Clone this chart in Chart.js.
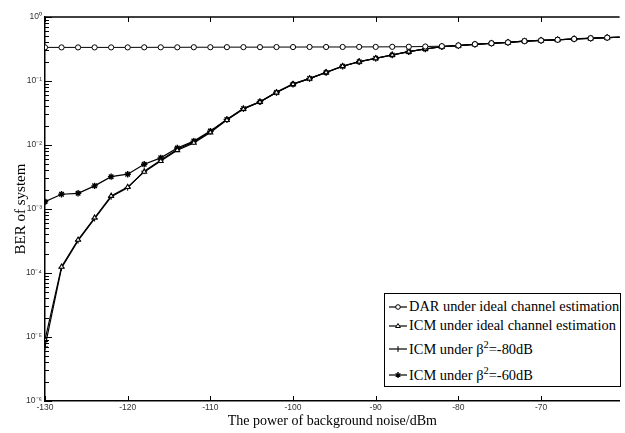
<!DOCTYPE html>
<html>
<head>
<meta charset="utf-8">
<script src="https://cdn.jsdelivr.net/npm/chart.js@4.4.1/dist/chart.umd.min.js"></script>
<style>
   body { margin: 0; background: #fff; overflow: hidden; }
   #wrap { position: relative; width: 625px; height: 433px; }
   #legend {
      position: absolute; left: 384px; top: 293px; width: 237px; height: 94px;
      border: 1px solid #000; background: #fff; box-sizing: border-box;
      font-family: "Liberation Serif", serif; font-size: 14.4px; color: #000;
      padding-top: 3px;
   }
   #legend .row { display: flex; align-items: center; padding-left: 4px; white-space: nowrap; }
   #legend svg { margin-right: 2px; flex: none; }
   #legend sup { font-size: 10.5px; line-height: 0; }
</style>
</head>
<body>
<div id="wrap">
   <canvas id="chart1" width="625" height="433"></canvas>
   <div id="legend"></div>
</div>
<script>
// noise power, dBm
const noise = [-130, -128, -126, -124, -122, -120, -118, -116, -114, -112, -110, -108,
   -106, -104, -102, -100, -98, -96, -94, -92, -90, -88, -86, -84, -82, -80,
   -78, -76, -74, -72, -70, -68, -66, -64, -62, -60];

const darIdeal = [0.335, 0.335, 0.335, 0.335, 0.335, 0.335, 0.336, 0.336, 0.336, 0.337, 0.337, 0.338,
   0.338, 0.338, 0.339, 0.339, 0.340, 0.340, 0.340, 0.341, 0.341, 0.342, 0.343, 0.346, 0.350, 0.360,
   0.376, 0.389, 0.401, 0.420, 0.431, 0.441, 0.454, 0.466, 0.476, 0.486];

const icmIdeal = [9.0e-6, 1.25e-4, 3.3e-4, 7.3e-4, 1.6e-3, 2.2e-3, 3.8e-3, 5.6e-3, 8.3e-3, 1.08e-2, 1.57e-2, 2.45e-2,
   3.65e-2, 4.7e-2, 0.066, 0.089, 0.109, 0.136, 0.170, 0.200, 0.226, 0.255, 0.287, 0.316, 0.343, 0.356,
   0.374, 0.388, 0.400, 0.420, 0.430, 0.440, 0.453, 0.465, 0.475, 0.485];

const icm80 = [7.0e-6, 1.2e-4, 3.2e-4, 7.1e-4, 1.55e-3, 2.15e-3, 3.9e-3, 5.8e-3, 8.6e-3, 1.12e-2, 1.62e-2, 2.5e-2,
   3.7e-2, 4.72e-2, 0.067, 0.090, 0.110, 0.137, 0.171, 0.201, 0.227, 0.256, 0.288, 0.317, 0.344, 0.357,
   0.375, 0.389, 0.401, 0.421, 0.431, 0.441, 0.454, 0.466, 0.476, 0.486];

const icm60 = [1.3e-3, 1.7e-3, 1.76e-3, 2.3e-3, 3.2e-3, 3.5e-3, 5.0e-3, 6.3e-3, 9.0e-3, 1.15e-2, 1.65e-2, 2.5e-2,
   3.7e-2, 4.75e-2, 0.066, 0.089, 0.109, 0.136, 0.170, 0.200, 0.226, 0.255, 0.287, 0.316, 0.343, 0.356,
   0.374, 0.388, 0.400, 0.420, 0.430, 0.440, 0.453, 0.465, 0.475, 0.485];

const seriesLabels = [
   `DAR under ideal channel estimation`,
   `ICM under ideal channel estimation`,
   `ICM under β<sup>2</sup>=-80dB`,
   `ICM under β<sup>2</sup>=-60dB`,
];

const xTicks = [-130, -120, -110, -100, -90, -80, -70];
const yTicks = [1e-6, 1e-5, 1e-4, 1e-3, 1e-2, 1e-1, 1];
const yTickLabels = ['10⁻⁶', '10⁻⁵', '10⁻⁴', '10⁻³', '10⁻²', '10⁻¹', '10⁰'];

function pairs(ys) {
   return noise.map((x, i) => ({ x: x, y: ys[i] }));
}

const markers = [
   { style: 'circle', radius: 2.6, fill: '#fff', width: 1 },
   { style: 'triangle', radius: 2.8, fill: '#fff', width: 1.1 },
   { style: 'cross', radius: 3, fill: 'rgba(0,0,0,0)', width: 1 },
   { style: 'star', radius: 3.2, fill: '#000', width: 1.4 },
];
const rowHeights = [19, 19, 28, 24];

// ticks inside the frame, plus the top border
const insideTicks = {
   id: 'insideTicks',
   afterDraw(chart) {
      const { ctx, chartArea: { left, right, top, bottom }, scales: { x, y } } = chart;
      ctx.save();
      ctx.strokeStyle = '#000';
      ctx.lineWidth = 1;
      ctx.beginPath();
      for (const v of xTicks) {
         const px = Math.round(x.getPixelForValue(v)) + 0.5;
         ctx.moveTo(px, bottom); ctx.lineTo(px, bottom - 5);
         ctx.moveTo(px, top); ctx.lineTo(px, top + 5);
      }
      for (let e = -6; e <= 0; e++) {
         for (let m = 1; m <= 9; m++) {
            const v = m * Math.pow(10, e);
            if (v > 1) break;
            const py = Math.round(y.getPixelForValue(v)) + 0.5;
            const len = m === 1 ? 7 : 4;
            ctx.moveTo(left, py); ctx.lineTo(left + len, py);
         }
      }
      ctx.stroke();
      ctx.lineWidth = 1.5;
      ctx.beginPath();
      ctx.moveTo(left, top); ctx.lineTo(right, top);
      ctx.stroke();
      ctx.restore();
   }
};

const datasets = [darIdeal, icmIdeal, icm80, icm60].map((ys, i) => ({
   label: seriesLabels[i].replace('<sup>2</sup>', '²'),
   data: pairs(ys),
   borderColor: '#000',
   borderWidth: i === 0 ? 1 : 1.2,
   backgroundColor: markers[i].fill,
   pointStyle: markers[i].style,
   pointRadius: markers[i].radius,
   pointBorderWidth: markers[i].width,
   pointBorderColor: '#000',
   pointBackgroundColor: markers[i].fill,
   tension: 0,
   fill: false,
}));

const tickFont = { family: 'Liberation Sans', size: 8.5 };

new Chart(document.querySelector('#chart1'), {
   type: 'line',
   data: { datasets: datasets },
   plugins: [insideTicks],
   options: {
      responsive: false,
      animation: false,
      devicePixelRatio: 1,
      layout: { padding: { top: 17, left: 0, right: 0, bottom: 0 } },
      plugins: { legend: { display: false }, tooltip: { enabled: false } },
      scales: {
         x: {
            type: 'linear',
            min: -130,
            max: -60.5,
            afterBuildTicks: (scale) => { scale.ticks = xTicks.map(v => ({ value: v })); },
            afterFit: (scale) => { scale.height = 32; },
            grid: { display: false, drawTicks: false },
            border: { display: true, color: '#000', width: 1.5 },
            ticks: { font: tickFont, color: '#333', padding: 2, maxRotation: 0, autoSkip: false },
            title: {
               display: true,
               text: 'The power of background noise/dBm',
               font: { family: 'Liberation Serif', size: 14 },
               color: '#000',
               padding: { top: 0, bottom: 3 },
            },
         },
         y: {
            type: 'logarithmic',
            min: 1e-6,
            max: 1,
            afterBuildTicks: (scale) => { scale.ticks = yTicks.map(v => ({ value: v })); },
            afterFit: (scale) => { scale.width = 45; },
            grid: { display: false, drawTicks: false },
            border: { display: true, color: '#000', width: 1.5 },
            ticks: {
               font: tickFont, color: '#333', padding: 3, autoSkip: false,
               callback: (v) => yTickLabels[yTicks.findIndex(t => Math.abs(Math.log10(t) - Math.log10(v)) < 1e-6)],
            },
            title: {
               display: true,
               text: 'BER of system',
               font: { family: 'Liberation Serif', size: 15 },
               color: '#000',
               padding: { top: 12, bottom: 0 },
            },
         },
      },
   },
});

// legend drawn as html so the superscripts stay real text
const legend = document.querySelector('#legend');
seriesLabels.forEach((label, i) => {
   const row = document.createElement('div');
   row.className = 'row';
   row.style.height = rowHeights[i] + 'px';
   let mark = '';
   if (i === 0) mark = `<circle cx="9" cy="5" r="2.3" fill="#fff" stroke="#000" stroke-width="1"/>`;
   if (i === 1) mark = `<polygon points="9,2.5 11.4,6.5 6.6,6.5" fill="#fff" stroke="#000" stroke-width="1"/>`;
   if (i === 2) mark = `<line x1="9" y1="2" x2="9" y2="8" stroke="#000" stroke-width="1"/>`;
   if (i === 3) mark = `<path d="M9 2 V8 M6.6 3.5 L11.4 6.5 M6.6 6.5 L11.4 3.5" stroke="#000" stroke-width="1.4"/>`;
   row.innerHTML = `<svg width="18" height="10"><line x1="0" y1="5" x2="18" y2="5" stroke="#000" stroke-width="1.2"/>${mark}</svg><span>${label}</span>`;
   legend.appendChild(row);
});
</script>
</body>
</html>
